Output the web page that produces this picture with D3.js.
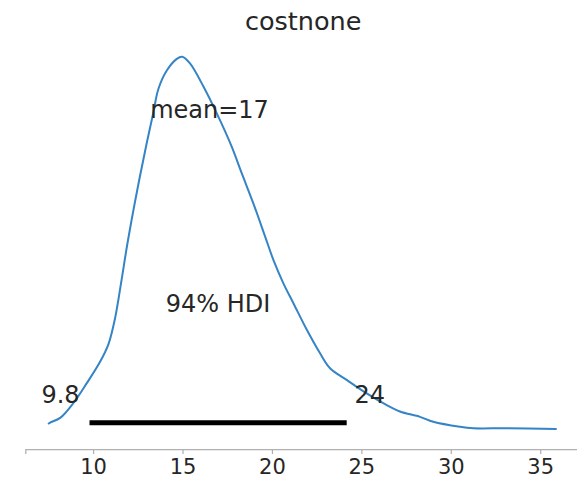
<!DOCTYPE html>
<html lang="en">
<head>
    <meta charset="UTF-8">
    <title>costnone posterior</title>
    <script src="https://cdn.jsdelivr.net/npm/d3@7"></script>
    <style>
        body{
            margin: 0;
            background: #ffffff;
        }
        svg text{
            font-family: "DejaVu Sans", sans-serif;
            fill: #262626;
        }
    </style>
</head>
<body>
<svg id="main" width="577" height="486"></svg>

<script>
    // kde of the posterior
    let grid_x = [7.48, 7.60, 8.16, 8.90, 9.65, 10.39, 10.86, 11.23, 11.60, 11.92, 12.44, 13.00, 13.37, 13.65,
        14.12, 14.68, 14.99, 15.42, 16.17, 16.91, 17.75, 18.31, 18.96, 19.61, 20.08, 20.64, 21.20, 21.95,
        22.69, 23.25, 24.18, 25.30, 26.42, 27.16, 28.28, 29.02, 30.51, 31.26, 33.12, 35.92]
    let density = [0.0017, 0.0021, 0.0034, 0.0076, 0.0132, 0.0192, 0.0242, 0.0315, 0.0425, 0.0525, 0.0668,
        0.0808, 0.0894, 0.0960, 0.1012, 0.1045, 0.1051, 0.1032, 0.0967, 0.0892, 0.0798, 0.0723, 0.0638,
        0.0546, 0.0479, 0.0413, 0.0357, 0.0282, 0.0216, 0.0174, 0.0141, 0.0103, 0.0070, 0.0052, 0.0037,
        0.0023, 0.0009, 0.0005, 0.0005, 0.0003]
    let x_ticks = [10, 15, 20, 25, 30, 35]
    let hdi = [9.8, 24.18]
    let hdi_labels = ["9.8", "24"]
    let mean_value = 16.51
    let mean_label = "mean=17"
    let hdi_label = "94% HDI"
    let title = "costnone"

    let svg = d3.select("#main")

    // Scales
    let x_scale = d3.scaleLinear()
        .domain([6.21, 37.28])
        .range([25.3, 581])

    let peak = d3.max(density)
    let y_scale = d3.scaleLinear()
        .domain([0, peak])
        .range([430, 56.7])

    // bottom axis, only the spine is shown
    let x_axis = d3.axisBottom()
        .scale(x_scale)
        .tickValues(x_ticks)
        .tickSize(5)
        .tickPadding(5)
        .tickFormat(d3.format("d"))

    let axis_g = svg.append("g")
        .attr("transform", "translate(0,449)")
        .call(x_axis)
    axis_g.select(".domain")
        .attr("stroke", "#b0b0b0")
        .attr("stroke-width", 1.25)
    axis_g.selectAll(".tick line")
        .attr("stroke", "#b0b0b0")
        .attr("stroke-width", 1.25)
    axis_g.selectAll(".tick text")
        .attr("font-size", "21px")
        .attr("fill", "#262626")
        .attr("font-family", "DejaVu Sans, sans-serif")

    // kde line
    let line = d3.line()
        .x((d, i) => x_scale(grid_x[i]))
        .y(d => y_scale(d))
        .curve(d3.curveCatmullRom.alpha(0.5))

    svg.append("path")
        .datum(density)
        .attr("d", line)
        .attr("fill", "none")
        .attr("stroke", "#3584c5")
        .attr("stroke-width", 2)

    // hdi bar
    svg.append("line")
        .attr("x1", x_scale(hdi[0]))
        .attr("x2", x_scale(hdi[1]))
        .attr("y1", y_scale(peak * 0.0196))
        .attr("y2", y_scale(peak * 0.0196))
        .attr("stroke", "black")
        .attr("stroke-width", 5)
        .attr("stroke-linecap", "butt")

    // hdi end labels
    svg.append("text")
        .attr("x", x_scale(hdi[0]))
        .attr("dx", -29)
        .attr("y", y_scale(peak * 0.071))
        .attr("text-anchor", "middle")
        .attr("font-size", "24px")
        .text(hdi_labels[0])

    svg.append("text")
        .attr("x", x_scale(hdi[1]))
        .attr("dx", 23)
        .attr("y", y_scale(peak * 0.071))
        .attr("text-anchor", "middle")
        .attr("font-size", "24px")
        .text(hdi_labels[1])

    svg.append("text")
        .attr("x", x_scale((hdi[0] + hdi[1]) / 2))
        .attr("y", y_scale(peak * 0.317))
        .attr("text-anchor", "middle")
        .attr("font-size", "24px")
        .text(hdi_label)

    // point estimate
    svg.append("text")
        .attr("x", x_scale(mean_value))
        .attr("y", y_scale(peak * 0.836))
        .attr("text-anchor", "middle")
        .attr("font-size", "24px")
        .text(mean_label)

    // title
    svg.append("text")
        .attr("x", (x_scale.range()[0] + x_scale.range()[1]) / 2)
        .attr("y", 30)
        .attr("text-anchor", "middle")
        .attr("font-size", "25.5px")
        .text(title)
</script>
</body>
</html>
